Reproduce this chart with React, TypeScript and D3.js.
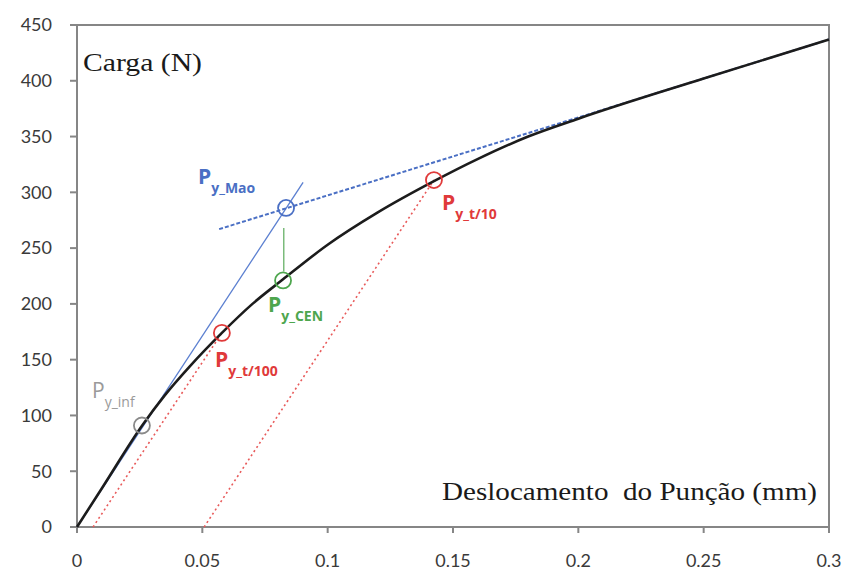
import * as d3 from "d3";
import React from "react";

// curva carga x deslocamento
const curveX = [0, 0.01, 0.026, 0.035, 0.045, 0.0578, 0.07, 0.0822, 0.1, 0.12, 0.1424, 0.16, 0.18, 0.2, 0.25, 0.3];
const curveY = [0, 35, 91, 118, 144, 174, 200, 222, 253, 282, 310, 330, 350, 366, 402, 437];

// retas auxiliares
const maoTangentX = [0, 0.0902];
const maoTangentY = [0, 309];
const maoSecantX = [0.0567, 0.3];
const maoSecantY = [267, 437];
const cenLineX = [0.0825, 0.0825];
const cenLineY = [268, 229];
const t100X = [0.0064, 0.0578];
const t100Y = [0, 174];
const t10X = [0.0507, 0.1424];
const t10Y = [0, 311];

// pontos marcados
const pointNames = ["inf", "t100", "cen", "mao", "t10"];
const pointX = [0.0259, 0.0578, 0.0822, 0.0834, 0.1424];
const pointY = [91, 174, 221, 286, 311];
const pointColors = ["#8a8a8a", "#e03a3a", "#4ea64e", "#4a6fc4", "#e03a3a"];

const xTicks = [0, 0.05, 0.1, 0.15, 0.2, 0.25, 0.3];
const yTicks = [0, 50, 100, 150, 200, 250, 300, 350, 400, 450];

const W = 846;
const H = 571;
const margin = {left: 77, right: 17, top: 25, bottom: 44};

const App = () => {
    const x = d3.scaleLinear().domain([0, 0.3]).range([margin.left, W - margin.right]);
    const y = d3.scaleLinear().domain([0, 450]).range([H - margin.bottom, margin.top]);

    const line = d3.line<[number, number]>().x(d => x(d[0])).y(d => y(d[1]));
    const curveLine = d3.line<[number, number]>().x(d => x(d[0])).y(d => y(d[1])).curve(d3.curveMonotoneX);
    const zip = (a: number[], b: number[]) => a.map((v, i) => [v, b[i]] as [number, number]);

    const axisColor = "#868686";
    const tickFont = "Lato, 'Open Sans', sans-serif";

    // rótulo P com índice
    const label = (xp: number, yp: number, sub: string, color: string, bold = true) => (
        <text x={xp} y={yp} fill={color} fontFamily="'Open Sans', sans-serif" fontWeight={bold ? 700 : 400}>
            <tspan fontSize={21}>P</tspan>
            <tspan fontSize={14} dy={9}>{sub}</tspan>
        </text>
    );

    return (
        <svg width={W} height={H} style={{position: "absolute", left: 0, top: 0, background: "#fff"}}>
            {/* moldura */}
            <rect x={x(0)} y={y(450)} width={x(0.3) - x(0)} height={y(0) - y(450)}
                  fill="none" stroke={axisColor} strokeWidth={2}/>

            {/* ticks e rótulos */}
            {yTicks.map(t => (
                <g key={"y" + t}>
                    <line x1={x(0) - 7} x2={x(0)} y1={y(t)} y2={y(t)} stroke={axisColor} strokeWidth={2}/>
                    <text x={52} y={y(t)} dy="0.35em" textAnchor="end" fontSize={18}
                          fontFamily={tickFont} fill="#3a3a3a">{t}</text>
                </g>
            ))}
            {xTicks.map(t => (
                <g key={"x" + t}>
                    <line x1={x(t)} x2={x(t)} y1={y(0)} y2={y(0) + 6} stroke={axisColor} strokeWidth={2}/>
                    <text x={x(t)} y={561} dy="0.35em" textAnchor="middle" fontSize={18}
                          fontFamily={tickFont} fill="#3a3a3a">{t}</text>
                </g>
            ))}

            {/* retas vermelhas pontilhadas */}
            <path d={line(zip(t100X, t100Y)) || ""} stroke="#e85a5a" strokeWidth={1.6} strokeDasharray="2 3" fill="none"/>
            <path d={line(zip(t10X, t10Y)) || ""} stroke="#e85a5a" strokeWidth={1.6} strokeDasharray="2 3" fill="none"/>

            {/* retas azuis */}
            <path d={line(zip(maoTangentX, maoTangentY)) || ""} stroke="#5b7fd0" strokeWidth={1.3} fill="none"/>
            <path d={line(zip(maoSecantX, maoSecantY)) || ""} stroke="#4a6fc4" strokeWidth={2} strokeDasharray="4 2" fill="none"/>

            {/* reta verde */}
            <path d={line(zip(cenLineX, cenLineY)) || ""} stroke="#5aaa5a" strokeWidth={1.2} fill="none"/>

            {/* curva */}
            <path d={curveLine(zip(curveX, curveY)) || ""} stroke="#1c1c1c" strokeWidth={2.6} fill="none"/>

            {/* círculos */}
            {pointNames.map((n, i) => (
                <circle key={n} cx={x(pointX[i])} cy={y(pointY[i])} r={8} fill="none"
                        stroke={pointColors[i]} strokeWidth={1.8}/>
            ))}

            {label(92, 398, "y_inf", "#9a9a9a", false)}
            {label(215, 367, "y_t/100", "#e03a3a")}
            {label(268, 312, "y_CEN", "#4ea64e")}
            {label(198, 184, "y_Mao", "#4a6fc4")}
            {label(442, 210, "y_t/10", "#e03a3a")}

            {/* títulos dos eixos */}
            <text x={83} y={71} fontSize={26} fontFamily="'Liberation Serif', 'Times New Roman', serif"
                  fill="#1a1a1a" textLength={119} lengthAdjust="spacingAndGlyphs">Carga (N)</text>
            <text x={442} y={500} fontSize={26} fontFamily="'Liberation Serif', 'Times New Roman', serif"
                  fill="#1a1a1a" textLength={375} lengthAdjust="spacingAndGlyphs" xmlSpace="preserve">Deslocamento  do Punção (mm)</text>
        </svg>
    );
};

export default App;
